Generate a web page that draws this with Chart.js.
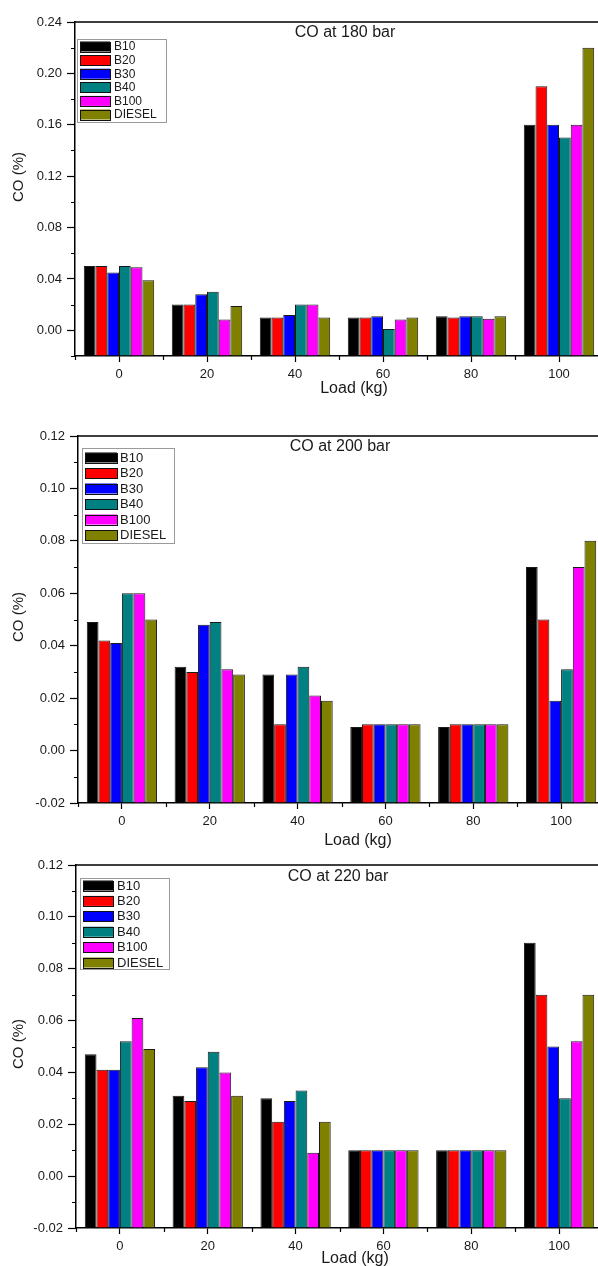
<!DOCTYPE html>
<html><head><meta charset="utf-8">
<script src="https://cdn.jsdelivr.net/npm/chart.js@4.4.1/dist/chart.umd.min.js"></script>
<style>
html,body{margin:0;padding:0;background:#fff;overflow:hidden;width:598px;height:1266px;}
#wrap{position:relative;width:598px;height:1266px;overflow:hidden;background:#fff;}
canvas{position:absolute;left:0;}
</style></head><body><div id="wrap">
<canvas id="c1" width="620" height="400" style="top:0px;width:620px;height:400px"></canvas>
<canvas id="c2" width="620" height="460" style="top:400px;width:620px;height:460px"></canvas>
<canvas id="c3" width="620" height="421" style="top:845px;width:620px;height:421px"></canvas>
</div>
<script>
// ---------- DATA ----------
const loads = ['0', '20', '40', '60', '80', '100'];
const fuels = ['B10', 'B20', 'B30', 'B40', 'B100', 'DIESEL'];
const fuelColors = ['#000000', '#ff0000', '#0000ff', '#008080', '#ff00ff', '#808000'];

// CO at 180 bar
const co180B10    = [0.050, 0.020, 0.010, 0.010, 0.011, 0.160];
const co180B20    = [0.050, 0.020, 0.010, 0.010, 0.010, 0.190];
const co180B30    = [0.045, 0.028, 0.012, 0.011, 0.011, 0.160];
const co180B40    = [0.050, 0.030, 0.020, 0.001, 0.011, 0.150];
const co180B100   = [0.049, 0.0085, 0.020, 0.0085, 0.009, 0.160];
const co180DIESEL = [0.039, 0.019, 0.010, 0.010, 0.011, 0.220];

// CO at 200 bar
const co200B10    = [0.049, 0.032, 0.029, 0.009, 0.009, 0.070];
const co200B20    = [0.042, 0.030, 0.010, 0.010, 0.010, 0.050];
const co200B30    = [0.041, 0.048, 0.029, 0.010, 0.010, 0.019];
const co200B40    = [0.060, 0.049, 0.032, 0.010, 0.010, 0.031];
const co200B100   = [0.060, 0.031, 0.021, 0.010, 0.010, 0.070];
const co200DIESEL = [0.050, 0.029, 0.019, 0.010, 0.010, 0.080];

// CO at 220 bar
const co220B10    = [0.047, 0.031, 0.030, 0.010, 0.010, 0.090];
const co220B20    = [0.041, 0.029, 0.021, 0.010, 0.010, 0.070];
const co220B30    = [0.041, 0.042, 0.029, 0.010, 0.010, 0.050];
const co220B40    = [0.052, 0.048, 0.033, 0.010, 0.010, 0.030];
const co220B100   = [0.061, 0.040, 0.009, 0.010, 0.010, 0.052];
const co220DIESEL = [0.049, 0.031, 0.021, 0.010, 0.010, 0.070];

// y axis: [min, max, minor step, labelled step]
const yAxis180 = [-0.02, 0.24, 0.02, 0.04];
const yAxis200 = [-0.02, 0.12, 0.01, 0.02];
const yAxis220 = [-0.02, 0.12, 0.01, 0.02];

const titles = ['CO at 180 bar', 'CO at 200 bar', 'CO at 220 bar'];
const xTitle = 'Load (kg)';
const yTitle = 'CO (%)';

// ---------- RENDERING ----------
const FONT = '"Liberation Sans", Arial, Helvetica, sans-serif';
const TEXT = '#1a1a1a';

function isMajor(v, step) {
  const r = v / step;
  return Math.abs(r - Math.round(r)) < 1e-6;
}
function fmt(v) {
  const r = Math.round(v * 1000) / 1000;
  return (Math.abs(r) < 1e-9 ? 0 : r).toFixed(2);
}

const decor = {
  id: 'decor',
  afterDraw(chart, args, o) {
    const ctx = chart.ctx, a = chart.chartArea;
    const xs = chart.scales.x, ys = chart.scales.y;
    ctx.save();
    // frame (top and right)
    ctx.strokeStyle = '#000';
    ctx.lineWidth = 1.5;
    ctx.beginPath();
    ctx.moveTo(a.left, a.top); ctx.lineTo(a.right, a.top); ctx.lineTo(a.right, a.bottom);
    ctx.stroke();
    // minor ticks
    ctx.lineWidth = 1.2;
    ctx.beginPath();
    ys.ticks.forEach(t => {
      if (!isMajor(t.value, o.major)) {
        const py = Math.round(ys.getPixelForValue(t.value)) + 0.5;
        ctx.moveTo(a.left - 4, py); ctx.lineTo(a.left, py);
      }
    });
    for (let i = 0; i <= chart.data.labels.length; i++) {
      const px = Math.round(xs.getPixelForValue(i - 0.5)) + 0.5;
      ctx.moveTo(px, a.bottom); ctx.lineTo(px, a.bottom + 4);
    }
    ctx.stroke();

    // legend
    const L = o.legend;
    const bx = a.left + L.box[0], by = a.top + L.box[1];
    ctx.strokeStyle = '#9a9a9a';
    ctx.lineWidth = 1;
    ctx.strokeRect(bx + 0.5, by + 0.5, L.box[2], L.box[3]);
    ctx.font = L.font + 'px ' + FONT;
    ctx.textAlign = 'left';
    ctx.textBaseline = 'middle';
    chart.data.datasets.forEach((ds, i) => {
      const cy = a.top + L.row0 + i * L.rowGap;
      const sx = a.left + L.sw[0];
      ctx.fillStyle = ds.backgroundColor;
      ctx.fillRect(sx, cy - L.sw[2] / 2, L.sw[1], L.sw[2]);
      ctx.strokeStyle = '#111';
      ctx.strokeRect(sx + 0.5, Math.round(cy - L.sw[2] / 2) + 0.5, L.sw[1], L.sw[2]);
      ctx.fillStyle = TEXT;
      ctx.fillText(ds.label, a.left + L.tx, cy + 0.5);
    });

    // chart title inside plot
    ctx.fillStyle = TEXT;
    ctx.textAlign = 'center';
    ctx.font = '16px ' + FONT;
    ctx.fillText(o.title, o.titlePos[0], o.titlePos[1]);
    // x axis title
    ctx.font = '16px ' + FONT;
    ctx.fillText(xTitle, o.xTitlePos[0], o.xTitlePos[1]);
    // y axis title
    ctx.translate(o.yTitlePos[0], o.yTitlePos[1]);
    ctx.rotate(-Math.PI / 2);
    ctx.font = '15px ' + FONT;
    ctx.fillText(yTitle, 0, 0);
    ctx.restore();
  }
};

function makeChart(id, series, yAx, cfg) {
  const [ymin, ymax, ystep, ymajor] = yAx;
  return new Chart(document.getElementById(id), {
    type: 'bar',
    data: {
      labels: loads,
      datasets: series.map((vals, i) => ({
        label: fuels[i],
        data: vals,
        backgroundColor: fuelColors[i],
        borderColor: '#1a1a1a',
        borderWidth: 1,
        base: ymin,
        categoryPercentage: 0.8,
        barPercentage: 1.0
      }))
    },
    options: {
      responsive: false,
      animation: false,
      devicePixelRatio: 1,
      layout: { padding: { top: cfg.padTop, right: cfg.padRight, left: 0, bottom: 0 } },
      plugins: {
        legend: { display: false },
        tooltip: { enabled: false },
        title: { display: false },
        decor: {
          major: ymajor,
          title: cfg.title,
          titlePos: cfg.titlePos,
          xTitlePos: cfg.xTitlePos,
          yTitlePos: cfg.yTitlePos,
          legend: cfg.legend
        }
      },
      scales: {
        x: {
          type: 'category',
          offset: true,
          afterFit: s => { s.height = cfg.xHeight; },
          grid: { offset: false, drawOnChartArea: false, drawTicks: true, tickLength: 6, tickColor: '#000', tickWidth: 1.2 },
          border: { display: true, color: '#000', width: 1.5 },
          ticks: { color: TEXT, font: { family: FONT, size: 13 }, padding: 5, maxRotation: 0, autoSkip: false }
        },
        y: {
          type: 'linear',
          min: ymin, max: ymax,
          afterFit: s => { s.width = cfg.yWidth; },
          grid: {
            drawOnChartArea: false, drawTicks: true, tickLength: 8, tickWidth: 1.2,
            tickColor: c => (c.tick && isMajor(c.tick.value, ymajor)) ? '#000' : 'rgba(0,0,0,0)'
          },
          border: { display: true, color: '#000', width: 1.5 },
          ticks: {
            stepSize: ystep, autoSkip: false, padding: 5,
            color: TEXT, font: { family: FONT, size: 13 },
            callback: v => isMajor(v, ymajor) ? fmt(v) : ''
          }
        }
      }
    },
    plugins: [decor]
  });
}

makeChart('c1', [co180B10, co180B20, co180B30, co180B40, co180B100, co180DIESEL], yAxis180, {
  padTop: 22, padRight: 17, yWidth: 75, xHeight: 44,
  title: titles[0], titlePos: [345, 33], xTitlePos: [354, 389], yTitlePos: [19, 177],
  legend: { box: [2, 17, 89, 83], row0: 24.5, rowGap: 13.6, sw: [5, 30, 10], tx: 39, font: 12 }
});
makeChart('c2', [co200B10, co200B20, co200B30, co200B40, co200B100, co200DIESEL], yAxis200, {
  padTop: 36, padRight: 15, yWidth: 78, xHeight: 57,
  title: titles[1], titlePos: [340, 47], xTitlePos: [358, 441], yTitlePos: [19, 217],
  legend: { box: [4, 12, 92, 95], row0: 21.5, rowGap: 15.5, sw: [7, 32, 10], tx: 42, font: 13 }
});
makeChart('c3', [co220B10, co220B20, co220B30, co220B40, co220B100, co220DIESEL], yAxis220, {
  padTop: 20, padRight: 17, yWidth: 76, xHeight: 38,
  title: titles[2], titlePos: [338, 32], xTitlePos: [355, 414], yTitlePos: [19, 199],
  legend: { box: [4, 13, 89, 91], row0: 20.5, rowGap: 15.4, sw: [7, 30, 10], tx: 41, font: 13 }
});
</script>
</body></html>
